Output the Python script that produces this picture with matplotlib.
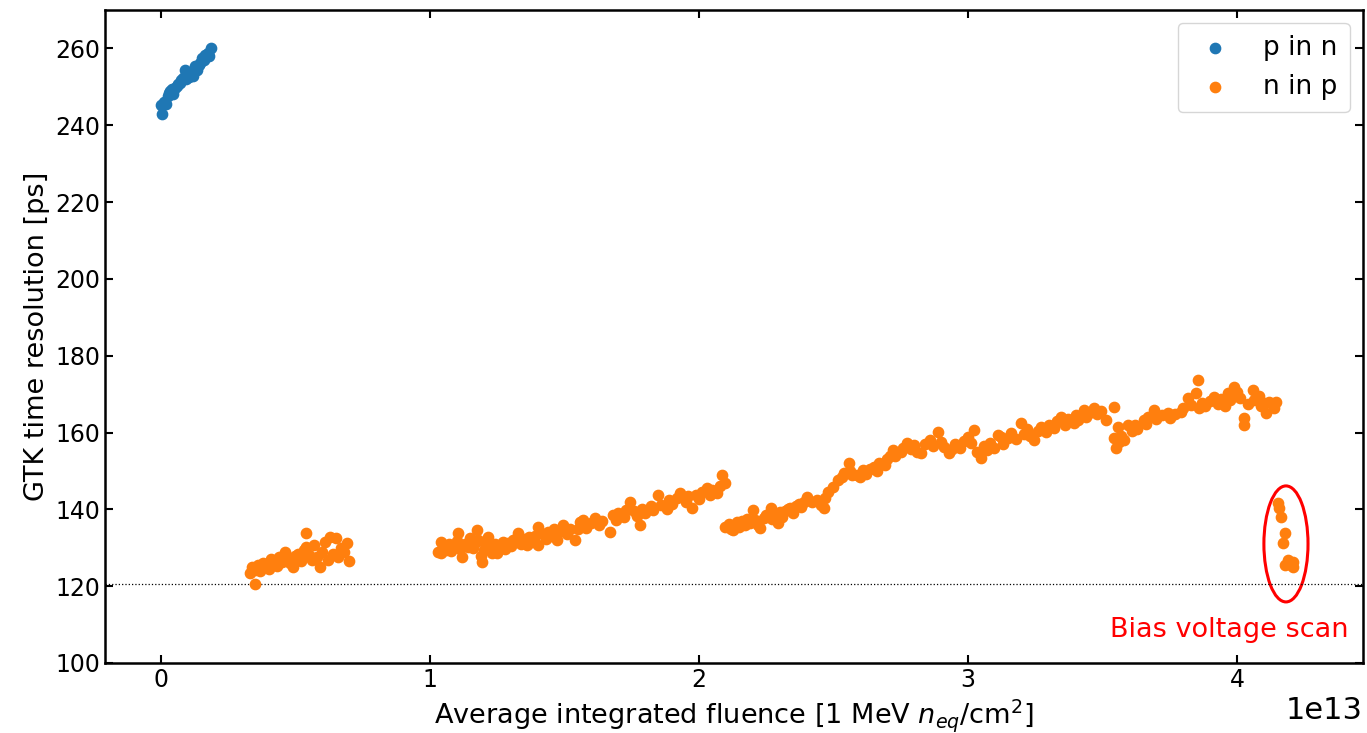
import numpy as np
import matplotlib
matplotlib.use("Agg")
import matplotlib.pyplot as plt
from matplotlib.patches import Ellipse

# fluence in units of 1e13 n_eq/cm^2, resolution in ps
pinn_fluence = [0.000, 0.004, 0.012, 0.019, 0.026, 0.030, 0.033, 0.041, 0.045, 0.052, 0.058,
                0.063, 0.070, 0.074, 0.082, 0.089, 0.093, 0.097, 0.104, 0.108, 0.115, 0.120,
                0.126, 0.134, 0.140, 0.145, 0.153, 0.160, 0.164, 0.175, 0.180, 0.186]
pinn_res = [245.2, 242.8, 246.0, 245.5, 247.5, 248.3, 248.8, 249.3, 248.0, 249.6, 250.2,
            250.6, 251.0, 251.7, 252.4, 254.3, 252.0, 253.2, 252.6, 253.0, 253.7, 252.8,
            255.3, 254.3, 255.8, 256.1, 257.4, 257.0, 258.2, 258.9, 258.0, 260.2]

ninp_fluence = [
    # first period
    0.33, 0.34, 0.35, 0.35, 0.36, 0.37, 0.38, 0.39, 0.40, 0.41, 0.42, 0.43, 0.44, 0.45,
    0.46, 0.47, 0.48, 0.49, 0.50, 0.51, 0.52, 0.53, 0.54, 0.54, 0.55, 0.56, 0.57, 0.58,
    0.59, 0.60, 0.61, 0.62, 0.63, 0.64, 0.65, 0.66, 0.67, 0.68, 0.69, 0.70,
    # second period
    1.03, 1.04, 1.04, 1.05, 1.06, 1.07, 1.08, 1.09, 1.10, 1.105, 1.11, 1.12, 1.13, 1.14,
    1.15, 1.16, 1.17, 1.176, 1.18, 1.19, 1.194, 1.20, 1.21, 1.216, 1.23, 1.24, 1.25, 1.26,
    1.27, 1.28, 1.29, 1.30, 1.31, 1.328, 1.34, 1.35, 1.36, 1.37, 1.38, 1.39, 1.40, 1.403,
    1.42, 1.43, 1.44, 1.45, 1.46, 1.473, 1.48, 1.496, 1.51, 1.52, 1.54, 1.55, 1.559, 1.57,
    1.58, 1.60, 1.615, 1.63, 1.64, 1.67, 1.682, 1.69, 1.70, 1.72, 1.73, 1.745, 1.76, 1.77,
    1.782, 1.79, 1.80, 1.82, 1.83, 1.849, 1.86, 1.88, 1.89, 1.90, 1.92, 1.931, 1.95, 1.96,
    1.975, 1.99, 2.00, 2.01, 2.031, 2.04, 2.05, 2.068, 2.08, 2.087, 2.098,
    # third period
    2.098, 2.11, 2.12, 2.128, 2.14, 2.15, 2.16, 2.17, 2.18, 2.19, 2.202, 2.21, 2.22, 2.228,
    2.24, 2.25, 2.266, 2.27, 2.28, 2.292, 2.30, 2.31, 2.32, 2.33, 2.34, 2.35, 2.36, 2.37,
    2.38, 2.39, 2.403, 2.42, 2.44, 2.452, 2.463, 2.47, 2.48, 2.50, 2.515, 2.53, 2.54, 2.556,
    2.56, 2.57, 2.589, 2.60, 2.61, 2.62, 2.635, 2.649, 2.66, 2.67, 2.69, 2.70, 2.71, 2.723,
    2.73, 2.75, 2.76, 2.775, 2.79, 2.80, 2.81, 2.824, 2.84, 2.86, 2.87, 2.887, 2.90, 2.91,
    2.928, 2.94, 2.95, 2.97, 2.985, 2.999, 3.01, 3.021, 3.035, 3.047, 3.06, 3.07, 3.08, 3.095,
    3.11, 3.121, 3.13, 3.15, 3.16, 3.18, 3.196, 3.21, 3.22, 3.23, 3.244, 3.26, 3.27, 3.29,
    3.30, 3.32, 3.33, 3.345, 3.36, 3.37, 3.393, 3.40, 3.41, 3.43, 3.44, 3.45, 3.467, 3.48,
    3.495, 3.512, 3.542,
    # fourth period
    3.557, 3.542, 3.549, 3.56, 3.57, 3.58, 3.594, 3.61, 3.62, 3.63, 3.653, 3.66, 3.67, 3.69,
    3.70, 3.72, 3.743, 3.75, 3.77, 3.791, 3.80, 3.817, 3.83, 3.847, 3.854, 3.86, 3.87, 3.88,
    3.90, 3.914, 3.93, 3.94, 3.955, 3.966, 3.975, 3.988, 4.00, 4.01, 4.025, 4.025, 4.04, 4.059,
    4.062, 4.08, 4.09, 4.10, 4.107, 4.12, 4.137, 4.144,
    # bias voltage scan
    4.152, 4.155, 4.163, 4.177, 4.170, 4.180, 4.189, 4.200, 4.208, 4.210,
]
ninp_res = [
    123.4, 125.0, 124.2, 120.6, 125.5, 124.0, 126.0, 125.2, 124.6, 127.0, 126.2, 125.3, 127.5, 126.4,
    128.9, 127.2, 126.0, 125.0, 127.8, 128.5, 126.5, 129.5, 130.2, 133.8, 128.0, 126.8, 130.7, 127.5,
    125.0, 129.0, 131.5, 126.8, 132.8, 128.5, 132.5, 127.6, 130.0, 129.0, 131.2, 126.5,
    128.9, 131.5, 128.6, 130.2, 129.5, 131.0, 129.2, 130.5, 131.8, 133.8, 129.8, 127.6, 131.0, 130.2,
    132.5, 129.9, 131.5, 134.6, 132.0, 127.8, 126.3, 129.5, 130.8, 132.8, 128.6, 131.0, 128.6, 130.0,
    131.5, 129.8, 131.2, 130.5, 132.0, 133.8, 131.0, 132.3, 130.8, 132.8, 131.5, 133.0, 130.7, 135.4,
    133.5, 132.2, 134.0, 133.0, 134.8, 132.0, 134.2, 135.9, 133.5, 135.0, 132.0, 134.8, 136.7, 137.2,
    135.2, 136.5, 137.7, 135.8, 137.0, 134.1, 138.5, 137.2, 139.0, 138.0, 139.8, 141.9, 139.5, 138.2,
    135.9, 140.2, 139.0, 141.0, 139.8, 143.7, 141.2, 140.0, 142.5, 141.5, 143.0, 144.2, 142.0, 143.5,
    140.3, 143.8, 142.8, 144.6, 145.5, 143.8, 145.0, 144.2, 146.2, 148.9, 146.8,
    135.4, 136.2, 135.0, 134.6, 136.8, 135.5, 137.0, 135.8, 137.6, 136.5, 139.8, 137.2, 136.0, 135.1,
    137.8, 138.5, 140.3, 137.5, 138.8, 136.4, 139.2, 138.0, 139.5, 140.0, 140.3, 139.0, 140.8, 141.5,
    140.5, 142.0, 143.2, 141.8, 142.5, 141.1, 140.3, 143.0, 144.5, 145.8, 147.6, 148.5, 149.5, 152.0,
    150.0, 149.0, 148.9, 148.4, 150.2, 149.2, 150.5, 151.0, 150.0, 152.0, 151.5, 153.2, 154.0, 155.4,
    153.8, 155.0, 156.0, 157.2, 155.6, 156.8, 155.0, 154.6, 157.0, 158.0, 156.5, 160.1, 157.5, 156.2,
    154.6, 155.8, 157.0, 156.0, 157.8, 158.8, 157.2, 160.6, 155.0, 153.3, 156.5, 155.5, 157.2, 156.0,
    159.3, 158.8, 157.0, 158.5, 160.0, 158.2, 162.4, 159.5, 160.8, 159.0, 158.0, 160.5, 161.5, 160.2,
    162.0, 161.2, 163.0, 164.0, 162.0, 163.5, 162.4, 164.5, 163.2, 165.8, 164.0, 165.2, 166.3, 164.8,
    165.5, 163.2, 166.6,
    161.4, 158.5, 155.9, 157.5, 159.0, 158.0, 161.9, 160.5, 162.0, 161.0, 163.2, 162.2, 164.0, 165.8,
    163.5, 164.5, 165.0, 163.8, 164.8, 165.3, 166.5, 168.9, 167.2, 170.2, 173.6, 166.5, 167.8, 166.8,
    168.2, 169.2, 167.5, 168.8, 167.0, 170.2, 168.5, 171.8, 170.5, 169.0, 163.7, 161.9, 167.5, 171.0,
    168.4, 169.5, 166.8, 167.6, 165.0, 168.0, 166.3, 167.9,
    141.6, 140.3, 138.0, 133.8, 131.2, 125.5, 126.8, 125.5, 126.3, 125.0,
]

scale = 1e13
pinn_x = np.array(pinn_fluence) * scale
ninp_x = np.array(ninp_fluence) * scale

fig = plt.figure(figsize=(13.67, 7.33), dpi=100)
ax = fig.add_axes([0.0768, 0.0955, 0.9202, 0.8909])

ax.scatter(pinn_x, pinn_res, s=55, color="tab:blue", label="p in n", zorder=3)
ax.scatter(ninp_x, ninp_res, s=55, color="tab:orange", label="n in p", zorder=3)

ax.axhline(min(ninp_res), color="k", ls=":", lw=0.9)

ax.add_patch(Ellipse((4.182 * scale, 131.0), 0.164 * scale, 30.2,
                     fill=False, edgecolor="red", lw=2.2))
ax.text(3.97 * scale, 106.8, "Bias voltage scan", color="red",
        fontsize=19.5, ha="center", va="baseline")

ax.set_xlim(-0.208 * scale, 4.468 * scale)
ax.set_ylim(100, 270)
ax.set_xlabel(r"Average integrated fluence [1 MeV $n_{eq}$/cm$^2$]", fontsize=19.5)
ax.set_ylabel("GTK time resolution [ps]", fontsize=19.5)

ax.tick_params(direction="in", top=True, right=True, labelsize=17, length=6, width=1.5)
ax.xaxis.get_offset_text().set_fontsize(22)
for sp in ax.spines.values():
    sp.set_linewidth(1.8)

ax.legend(loc="upper right", fontsize=19, handlelength=1.9, handletextpad=0.9,
          borderpad=0.45)

fig.savefig("out.png", dpi=100)
